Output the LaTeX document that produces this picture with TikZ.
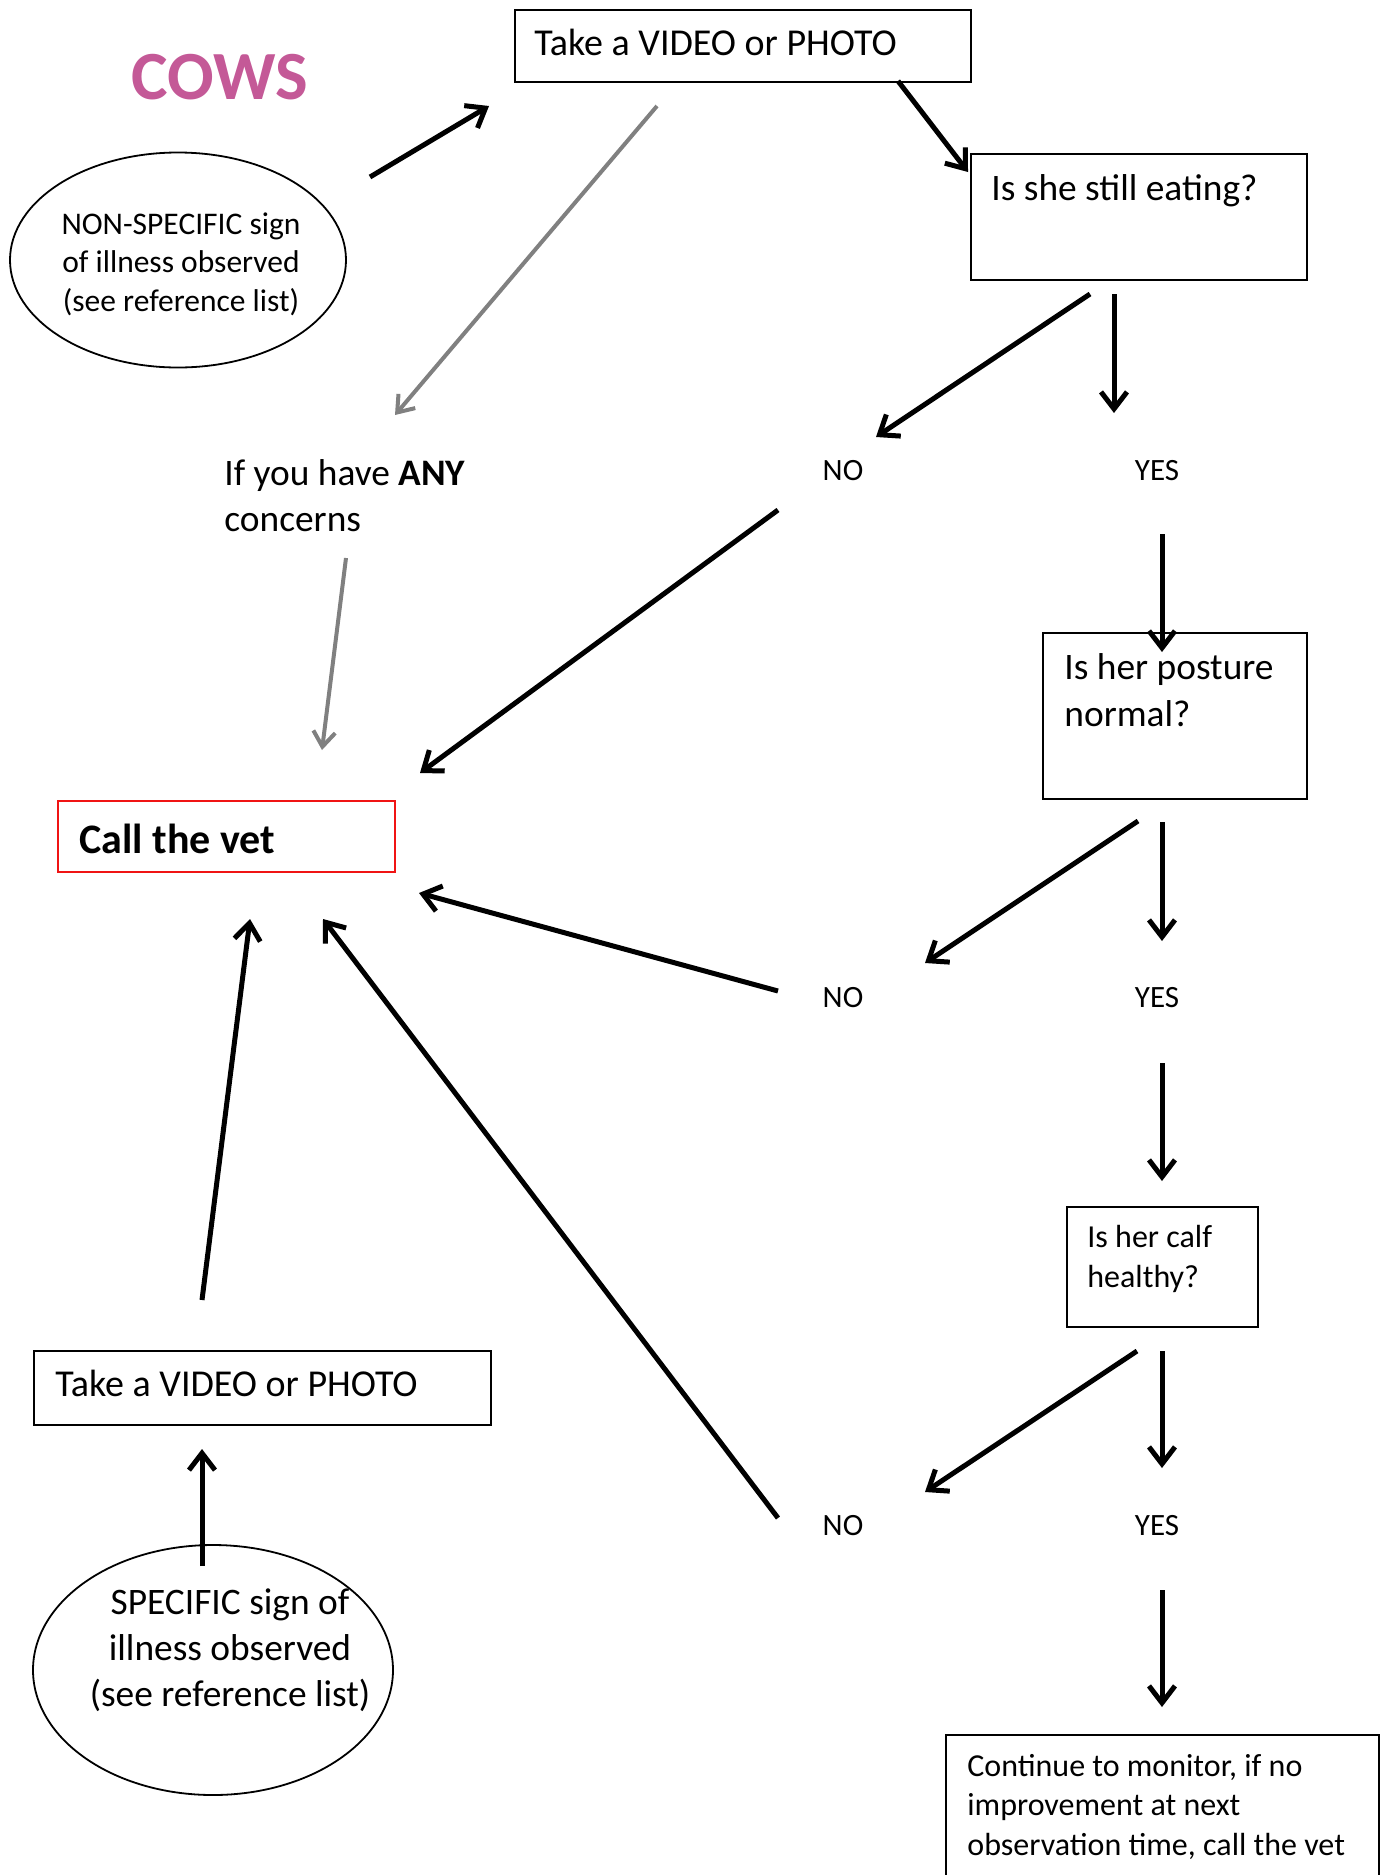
\documentclass[tikz,border=0pt]{standalone}
\usepackage{fontspec}
\setmainfont{Carlito}
\usetikzlibrary{arrows.meta,shapes.geometric}
\definecolor{cowpink}{RGB}{196,89,151}
\definecolor{arrgray}{RGB}{128,128,128}
\definecolor{vetred}{RGB}{240,20,20}
\begin{document}
\begin{tikzpicture}[x=0.5pt,y=-0.5pt,
  box/.style={draw=black, line width=1.2pt, rectangle, inner sep=0pt, anchor=north west},
  redbox/.style={draw=vetred, line width=1.2pt, rectangle, inner sep=0pt, anchor=north west},
  oval/.style={draw=black, line width=0.9pt, ellipse, inner sep=0pt},
  txtL/.style={inner sep=0pt, anchor=base west, align=left, font=\fontsize{18.7}{22.5}\selectfont},
  txtS/.style={inner sep=0pt, anchor=base, font=\fontsize{15.5}{19}\selectfont},
  arr/.style={line width=2.5pt, draw=black, -{Straight Barb[length=8.5pt,width=13pt]}},
  garr/.style={line width=2pt, draw=arrgray, -{Straight Barb[length=7.5pt,width=11pt]}}]
\useasboundingbox (0,0) rectangle (1383,1875);

% title
\node[inner sep=0pt, anchor=base west, text=cowpink, font=\bfseries\fontsize{34.5}{40}\selectfont] (title) at (131,99) {COWS};

% boxes
\node[box, minimum width=228pt, minimum height=36pt] (b1) at (514,9) {};
\node[txtL, font=\fontsize{19}{22.5}\selectfont] (b1t) at (534,55) {Take a VIDEO or PHOTO};

\node[box, minimum width=168pt, minimum height=63pt] (b2) at (970,153) {};
\node[txtL] (b2t) at (991,200) {Is she still eating?};

\node[box, minimum width=132pt, minimum height=83pt] (b3) at (1042,632) {};
\node[txtL, font=\fontsize{18.7}{23.5}\selectfont] (b3t) at (1064,726) {Is her posture\\normal?};

\node[redbox, minimum width=168.5pt, minimum height=35.5pt] (b4) at (57,800) {};
\node[inner sep=0pt, anchor=base west, font=\bfseries\fontsize{21}{25}\selectfont] (b4t) at (79,853) {Call the vet};

\node[box, minimum width=95.5pt, minimum height=60pt] (b5) at (1066,1206) {};
\node[txtL, font=\fontsize{16}{20}\selectfont] (b5t) at (1087,1287) {Is her calf\\healthy?};

\node[box, minimum width=228.5pt, minimum height=37pt] (b6) at (33,1350) {};
\node[txtL, font=\fontsize{19}{22.5}\selectfont] (b6t) at (55,1396) {Take a VIDEO or PHOTO};

\node[box, minimum width=216.5pt, minimum height=90pt] (b7) at (945,1734) {};
\node[txtL, font=\fontsize{16}{19.75}\selectfont] (b7t) at (967,1855) {Continue to monitor, if no\\improvement at next\\observation time, call the vet};

% ellipses
\node[oval, minimum width=168pt, minimum height=107.5pt] (e1) at (178,260) {};
\node[inner sep=0pt, anchor=base, align=center, font=\fontsize{15.75}{19.25}\selectfont] (e1t) at (181,311) {NON-SPECIFIC sign\\of illness observed\\(see reference list)};

\node[oval, minimum width=180pt, minimum height=125pt] (e2) at (213,1670) {};
\node[inner sep=0pt, anchor=base, align=center, font=\fontsize{18.7}{23}\selectfont] (e2t) at (230,1706) {SPECIFIC sign of\\illness observed\\(see reference list)};

% free text
\node[txtL, font=\fontsize{18.7}{23}\selectfont] (any) at (224,531) {If you have \textbf{ANY}\\concerns};

\node[txtS] (no1) at (843,480) {NO};
\node[txtS] (yes1) at (1157,480) {YES};
\node[txtS] (no2) at (843,1007) {NO};
\node[txtS] (yes2) at (1157,1007) {YES};
\node[txtS] (no3) at (843,1535) {NO};
\node[txtS] (yes3) at (1157,1535) {YES};

% connector end points
\coordinate (a1s) at (370,177);   \coordinate (a1e) at (489,106);
\coordinate (a2s) at (657,106);   \coordinate (a2e) at (395,415);
\coordinate (a3s) at (898,81);    \coordinate (a3e) at (968,172);
\coordinate (a4s) at (1090,294);  \coordinate (a4e) at (876,437);
\coordinate (a5s) at (1114,294);  \coordinate (a5e) at (1114,413);
\coordinate (a6s) at (346,558);   \coordinate (a6e) at (322,750);
\coordinate (a7s) at (778,510);   \coordinate (a7e) at (420,773);
\coordinate (a8s) at (1162,534);  \coordinate (a8e) at (1162,652);
\coordinate (a9s) at (1138,821);  \coordinate (a9e) at (925,963);
\coordinate (a10s) at (1162,822); \coordinate (a10e) at (1162,941);
\coordinate (a11s) at (778,991);  \coordinate (a11e) at (419,893);
\coordinate (a12s) at (1162,1063);\coordinate (a12e) at (1162,1181);
\coordinate (a13s) at (1137,1351);\coordinate (a13e) at (925,1492);
\coordinate (a14s) at (1162,1351);\coordinate (a14e) at (1162,1468);
\coordinate (a15s) at (778,1518); \coordinate (a15e) at (323,919);
\coordinate (a16s) at (1162,1590);\coordinate (a16e) at (1162,1707);
\coordinate (a17s) at (202,1300); \coordinate (a17e) at (250,919);
\coordinate (a18s) at (202,1566); \coordinate (a18e) at (202,1449);

% connectors
\draw[arr] (a1s) -- (a1e);
\draw[garr] (a2s) -- (a2e);
\draw[arr] (a3s) -- (a3e);
\draw[arr] (a4s) -- (a4e);
\draw[arr] (a5s) -- (a5e);
\draw[garr] (a6s) -- (a6e);
\draw[arr] (a7s) -- (a7e);
\draw[arr] (a8s) -- (a8e);
\draw[arr] (a9s) -- (a9e);
\draw[arr] (a10s) -- (a10e);
\draw[arr] (a11s) -- (a11e);
\draw[arr] (a12s) -- (a12e);
\draw[arr] (a13s) -- (a13e);
\draw[arr] (a14s) -- (a14e);
\draw[arr] (a15s) -- (a15e);
\draw[arr] (a16s) -- (a16e);
\draw[arr] (a17s) -- (a17e);
\draw[arr] (a18s) -- (a18e);
\end{tikzpicture}
\end{document}
